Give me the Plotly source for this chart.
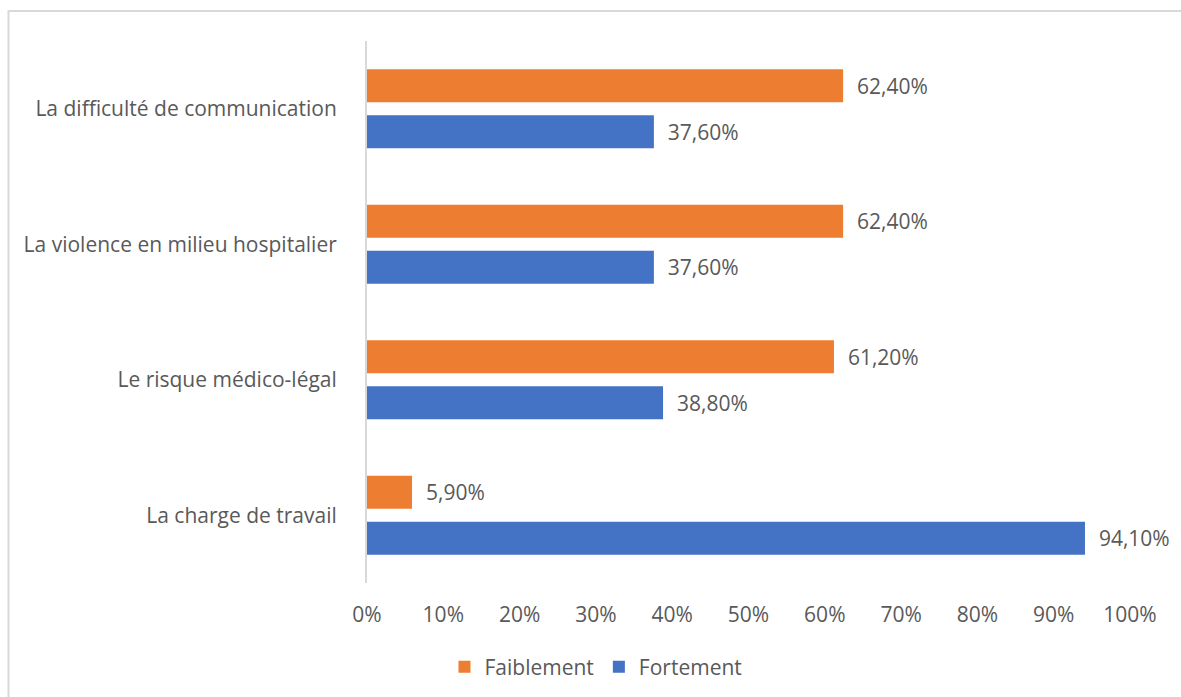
import plotly.graph_objects as go

categories = [
    "La difficulté de communication",
    "La violence en milieu hospitalier",
    "Le risque médico-légal",
    "La charge de travail",
]
faiblement = [0.624, 0.624, 0.612, 0.059]
fortement = [0.376, 0.376, 0.388, 0.941]
x_ticks = [i / 10 for i in range(11)]
x_tick_labels = [f"{i * 10}%" for i in range(11)]

TEXT = "#595959"
FONT = "Open Sans"
FS = 21

W, H = 1181, 697
L, R, T, B = 367, 51, 41, 114
PW, PH = W - L - R, H - T - B


def fr(v):
    return "\u00a0\u00a0" + f"{v * 100:.2f}".replace(".", ",") + "%"


fig = go.Figure()
fig.add_trace(go.Bar(
    name="Faiblement", y=categories, x=faiblement, orientation="h",
    marker=dict(color="#ED7D31", line=dict(width=0)),
    text=[fr(v) for v in faiblement], textposition="outside",
    textfont=dict(family=FONT, size=FS, color=TEXT), cliponaxis=False,
))
fig.add_trace(go.Bar(
    name="Fortement", y=categories, x=fortement, orientation="h",
    marker=dict(color="#4472C4", line=dict(width=0)),
    text=[fr(v) for v in fortement], textposition="outside",
    textfont=dict(family=FONT, size=FS, color=TEXT), cliponaxis=False,
))

# outer chart frame (extends past the right and bottom edges)
fig.add_shape(
    type="rect", xref="paper", yref="paper",
    x0=(8.5 - L) / PW, x1=1.3, y0=-0.4, y1=(H - B - 11) / PH,
    line=dict(color="#d9d9d9", width=2), fillcolor="rgba(0,0,0,0)",
    layer="below",
)

fig.update_layout(
    width=W, height=H,
    margin=dict(l=L, r=R, t=T, b=B, autoexpand=False),
    paper_bgcolor="white", plot_bgcolor="white",
    barmode="group", bargap=0.321, bargroupgap=0.283,
    font=dict(family=FONT, size=FS, color=TEXT),
    showlegend=True,
    legend=dict(
        orientation="h", x=(596 - L) / PW, xanchor="center",
        y=(H - B - 667) / PH, yanchor="middle",
        font=dict(family=FONT, size=FS, color=TEXT),
        traceorder="normal", itemwidth=30,
    ),
    xaxis=dict(
        range=[0, 1], tickvals=x_ticks, ticktext=x_tick_labels,
        showgrid=False, zeroline=False, showline=False, ticks="",
        ticklabelstandoff=17,
        tickfont=dict(family=FONT, size=FS, color=TEXT),
    ),
    yaxis=dict(
        autorange="reversed", showgrid=False, zeroline=False,
        showline=True, linecolor="#d9d9d9", linewidth=2, ticks="",
        ticklabelstandoff=24,
        tickfont=dict(family=FONT, size=FS, color=TEXT),
    ),
)

fig.write_html("out.html")
